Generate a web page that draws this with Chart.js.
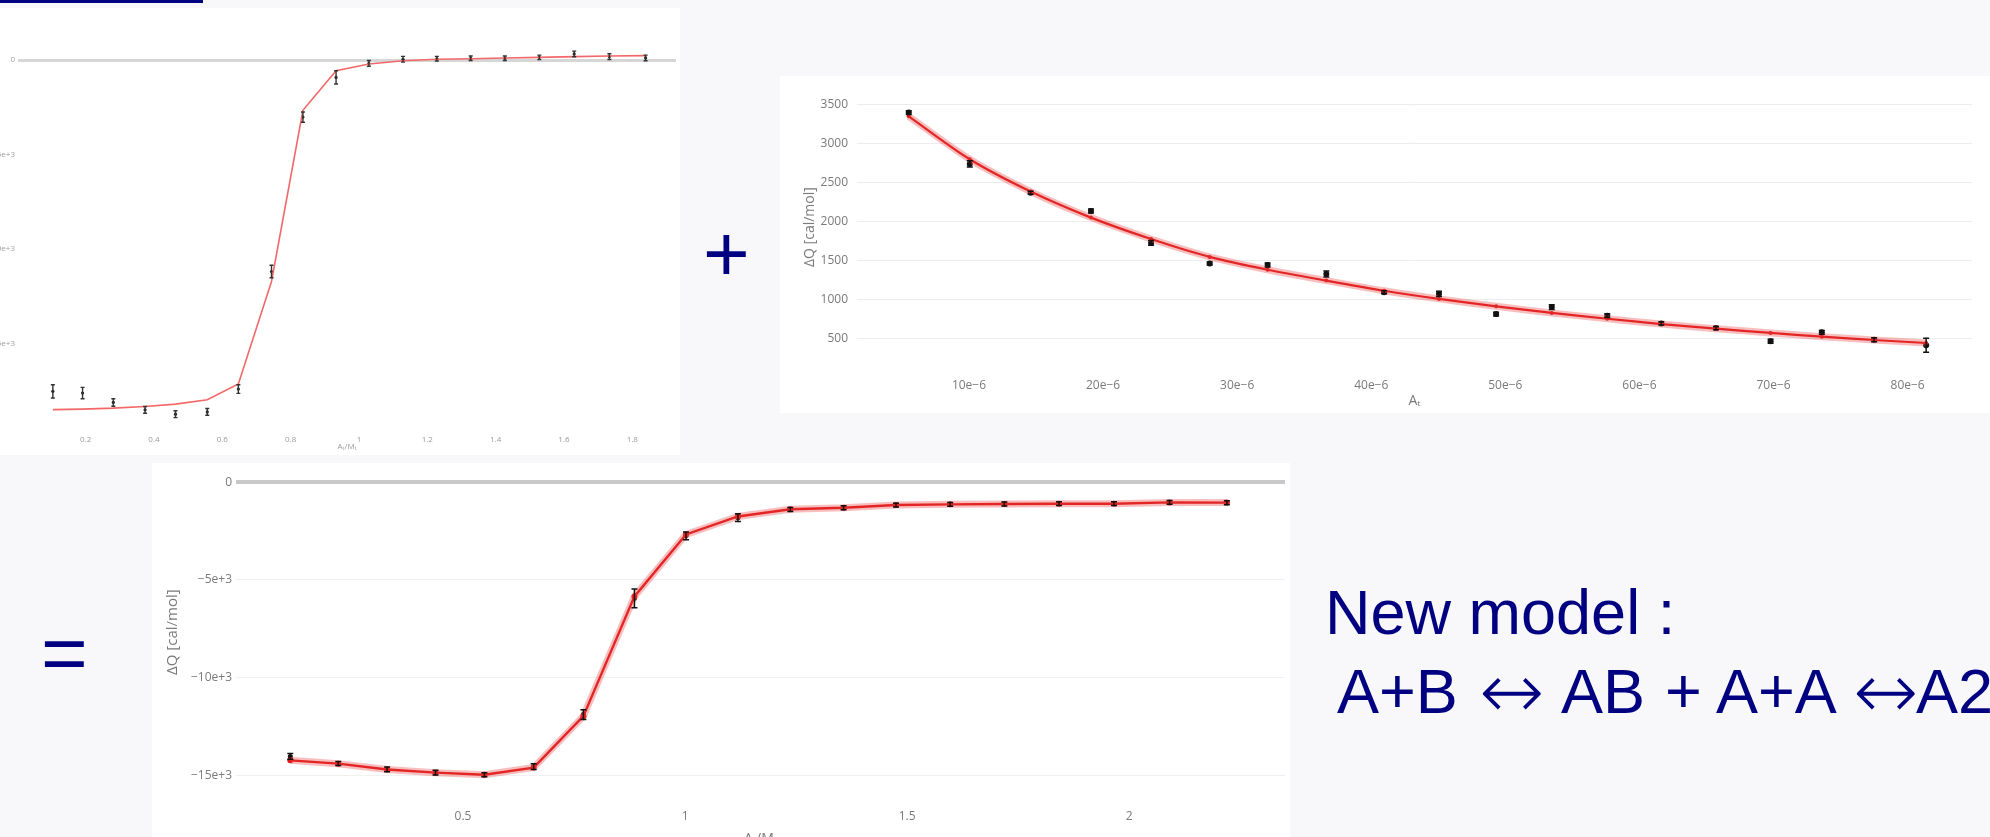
<!DOCTYPE html>
<html><head><meta charset="utf-8">
<script src="https://cdn.jsdelivr.net/npm/chart.js@4.4.1/dist/chart.umd.min.js"></script>
<style>
html,body{margin:0;padding:0;}
body{width:1990px;height:837px;overflow:hidden;background:#f8f8fb;position:relative;font-family:"Liberation Sans",Arial,sans-serif;}
.panel{position:absolute;background:#ffffff;}
canvas{position:absolute;}
.sym{position:absolute;color:#000080;font-size:80px;line-height:1;white-space:nowrap;}
.txt{position:absolute;color:#000080;font-size:63px;line-height:1;white-space:nowrap;}
.arr{position:absolute;color:#000080;font-family:"DejaVu Sans";font-weight:200;font-size:78px;line-height:1;white-space:nowrap;}
</style></head>
<body>
<div style="position:absolute;left:0;top:0;width:203px;height:3px;background:#000080"></div>
<div class="panel" style="left:0;top:8px;width:680px;height:447px"></div>
<div class="panel" style="left:780px;top:76px;width:1210px;height:337px"></div>
<div class="panel" style="left:152px;top:463px;width:1138px;height:374px"></div>
<canvas id="c1" width="680" height="420" style="left:0;top:35px"></canvas>
<canvas id="c2" width="1210" height="337" style="left:780px;top:76px"></canvas>
<canvas id="c3" width="1138" height="390" style="left:152px;top:463px"></canvas>
<span class="sym" style="left:703px;top:214px">+</span>
<span class="sym" style="left:41px;top:613px">=</span>
<span class="txt" style="left:1325px;top:581px">New model :</span>
<span class="txt" style="left:1337px;top:660px">A+B</span>
<span class="arr" style="left:1479px;top:652px">↔</span>
<span class="txt" style="left:1561px;top:660px">AB</span>
<span class="txt" style="left:1665px;top:660px">+</span>
<span class="txt" style="left:1716px;top:660px">A+A</span>
<span class="arr" style="left:1853px;top:652px">↔</span>
<span class="txt" style="left:1916px;top:660px">A2</span>
<script>
// ---------- data: top-left chart (A+B model fit) ----------
const tlRatio = [0.104,0.191,0.281,0.374,0.463,0.556,0.647,0.744,0.836,0.933,1.029,1.129,1.228,1.327,1.427,1.528,1.630,1.733,1.839];
const tlMeasured = [-17530,-17620,-18120,-18510,-18740,-18620,-17410,-11190,-3020,-920,-180,40,70,90,90,140,320,180,110];
const tlError = [350,300,200,180,180,180,230,330,270,350,150,150,120,120,120,120,150,150,150];
const tlFit = [-18500,-18470,-18420,-18330,-18210,-17980,-17140,-11720,-2660,-570,-210,-40,40,70,110,140,180,210,230];
const tlXTicks = [0.2,0.4,0.6,0.8,1,1.2,1.4,1.6,1.8];
const tlYTicks = [0,-5000,-10000,-15000];

// ---------- data: top-right chart (A+A dimer dilution) ----------
const trConc = [5.51e-6,10.06e-6,14.60e-6,19.10e-6,23.58e-6,27.95e-6,32.27e-6,36.65e-6,40.96e-6,45.05e-6,49.31e-6,53.46e-6,57.60e-6,61.63e-6,65.71e-6,69.78e-6,73.60e-6,77.50e-6,81.38e-6];
const trMeasured = [3400,2740,2370,2135,1725,1460,1440,1325,1090,1070,810,900,790,690,630,460,575,480,410];
const trError = [25,40,20,25,30,20,25,40,20,35,25,30,25,20,20,25,25,25,90];
const trFit = [3352,2800,2385,2050,1775,1545,1380,1240,1110,1005,910,825,750,682,622,568,520,477,438];
const trXTicks = [10e-6,20e-6,30e-6,40e-6,50e-6,60e-6,70e-6,80e-6];
const trYTicks = [500,1000,1500,2000,2500,3000,3500];

// ---------- data: bottom chart (combined model) ----------
const btRatio = [0.111,0.219,0.329,0.438,0.548,0.659,0.771,0.886,1.002,1.119,1.237,1.357,1.475,1.597,1.719,1.842,1.966,2.091,2.220];
const btMeasured = [-14040,-14400,-14700,-14870,-14980,-14560,-11900,-5950,-2750,-1820,-1400,-1310,-1180,-1140,-1120,-1100,-1100,-1040,-1060];
const btError = [150,100,120,120,100,150,250,480,200,200,100,100,100,100,100,100,100,100,100];
const btFit = [-14240,-14410,-14710,-14870,-14980,-14610,-11980,-5850,-2680,-1760,-1390,-1310,-1170,-1140,-1120,-1110,-1110,-1040,-1050];
const btXTicks = [0.5,1,1.5,2];
const btYTicks = [0,-5000,-10000,-15000];

const pts = (xs, ys) => xs.map((x, i) => ({x: x, y: ys[i]}));
const sci3 = v => v === 0 ? '0' : (v < 0 ? '\u2212' : '') + Math.abs(v / 1000) + 'e+3';

const errorBars = {
  id: 'errorBars',
  afterDatasetsDraw(chart) {
    const ctx = chart.ctx;
    const xs = chart.scales.x, ys = chart.scales.y;
    chart.data.datasets.forEach((ds) => {
      if (!ds.errors) return;
      ctx.save();
      ctx.strokeStyle = ds.errorColor || '#111';
      ctx.lineWidth = ds.errorWidth || 1.5;
      ds.data.forEach((p, j) => {
        const e = ds.errors[j];
        const x = xs.getPixelForValue(p.x);
        const y1 = ys.getPixelForValue(p.y - e), y2 = ys.getPixelForValue(p.y + e);
        const c = ds.capWidth || 3;
        ctx.beginPath();
        ctx.moveTo(x, y1); ctx.lineTo(x, y2);
        ctx.moveTo(x - c, y1); ctx.lineTo(x + c, y1);
        ctx.moveTo(x - c, y2); ctx.lineTo(x + c, y2);
        ctx.stroke();
      });
      ctx.restore();
    });
  }
};
Chart.register(errorBars);

const setTicks = (arr) => (scale) => { scale.ticks = arr.map(v => ({value: v})); };
const baseOpts = {
  responsive: false, animation: false, devicePixelRatio: 1,
  plugins: {legend: {display: false}, tooltip: {enabled: false}}
};

// ---------- chart 1 ----------
new Chart(document.getElementById('c1'), {
  type: 'line',
  data: {datasets: [
    {data: pts(tlRatio, tlFit), borderColor: '#f26868', borderWidth: 1.6, pointRadius: 0, tension: 0},
    {data: pts(tlRatio, tlMeasured), showLine: false, pointRadius: 1.6, pointBackgroundColor: '#222', pointBorderWidth: 0,
     errors: tlError, errorColor: '#333', errorWidth: 1.4, capWidth: 2}
  ]},
  options: Object.assign({}, baseOpts, {
    layout: {padding: {left: 0, right: 2, top: 10, bottom: 0}},
    scales: {
      x: {type: 'linear', min: 0.002, max: 1.928,
        afterBuildTicks: setTicks(tlXTicks), afterFit: s => { s.height = 35; },
        grid: {display: false}, border: {display: false},
        ticks: {padding: 7, color: '#9a9a9a', font: {size: 8, family: 'Open Sans'}, callback: v => String(v)},
        title: {display: true, text: 'A\u209c/M\u209c', color: '#9a9a9a', font: {size: 8, family: 'Open Sans'}, padding: {top: 0, bottom: 3}}},
      y: {type: 'linear', min: -19048, max: 794,
        afterBuildTicks: setTicks(tlYTicks), afterFit: s => { s.width = 18; },
        grid: {drawTicks: false, color: c => c.tick && c.tick.value === 0 ? '#d6d6d6' : 'rgba(0,0,0,0)', lineWidth: c => c.tick && c.tick.value === 0 ? 3 : 0},
        border: {display: false},
        ticks: {padding: 3, color: '#a0a0a0', font: {size: 8, family: 'Open Sans'}, callback: sci3}}
    }
  })
});

// ---------- chart 2 ----------
new Chart(document.getElementById('c2'), {
  type: 'line',
  data: {datasets: [
    {data: pts(trConc, trFit), borderColor: 'rgba(235,70,70,0.35)', borderWidth: 7, pointRadius: 0, tension: 0.3},
    {data: pts(trConc, trFit), borderColor: '#e01515', borderWidth: 2.2, pointRadius: 2, pointBackgroundColor: '#e01515', pointBorderWidth: 0, tension: 0.3},
    {data: pts(trConc, trMeasured), showLine: false, pointRadius: 3, pointBackgroundColor: '#111', pointBorderWidth: 0,
     errors: trError, errorColor: '#111', errorWidth: 1.5, capWidth: 3}
  ]},
  options: Object.assign({}, baseOpts, {
    layout: {padding: {left: 0, right: 18, top: 14, bottom: 0}},
    scales: {
      x: {type: 'linear', min: 1.65e-6, max: 84.80e-6,
        afterBuildTicks: setTicks(trXTicks), afterFit: s => { s.height = 51; },
        grid: {display: false}, border: {display: false},
        ticks: {padding: 8, color: '#7a7a7a', font: {size: 12, family: 'Open Sans'}, callback: v => Math.round(v * 1e6) + 'e\u22126'},
        title: {display: true, text: 'A\u209c', color: '#7a7a7a', font: {size: 14, family: 'Open Sans'}, padding: {top: 0, bottom: 3.6}}},
      y: {type: 'linear', min: 194, max: 3662,
        afterBuildTicks: setTicks(trYTicks), afterFit: s => { s.width = 77; },
        grid: {drawTicks: false, color: '#ececec', lineWidth: 1},
        border: {display: false},
        ticks: {padding: 9, color: '#7a7a7a', font: {size: 12, family: 'Open Sans'}, callback: v => String(v)},
        title: {display: true, text: '\u0394Q [cal/mol]', color: '#7a7a7a', font: {size: 14, family: 'Open Sans'}, padding: {top: 22, bottom: 0}}}
    }
  })
});

// ---------- chart 3 ----------
new Chart(document.getElementById('c3'), {
  type: 'line',
  data: {datasets: [
    {data: pts(btRatio, btFit), borderColor: 'rgba(235,70,70,0.35)', borderWidth: 7, pointRadius: 0, tension: 0},
    {data: pts(btRatio, btFit), borderColor: '#e01515', borderWidth: 2.4, pointRadius: 3, pointBackgroundColor: '#e01515', pointBorderWidth: 0, tension: 0},
    {data: pts(btRatio, btMeasured), showLine: false, pointRadius: 2.5, pointBackgroundColor: '#111', pointBorderWidth: 0,
     errors: btError, errorColor: '#111', errorWidth: 1.5, capWidth: 3}
  ]},
  options: Object.assign({}, baseOpts, {
    layout: {padding: {left: 0, right: 5, top: 7, bottom: 0}},
    scales: {
      x: {type: 'linear', min: -0.0113, max: 2.351,
        afterBuildTicks: setTicks(btXTicks), afterFit: s => { s.height = 63; },
        grid: {display: false}, border: {display: false},
        ticks: {padding: 11, color: '#7a7a7a', font: {size: 12, family: 'Open Sans'}, callback: v => String(v)},
        title: {display: true, text: 'A\u209c/M\u209c', color: '#7a7a7a', font: {size: 14, family: 'Open Sans'}, padding: {top: 0, bottom: 6}}},
      y: {type: 'linear', min: -15758, max: 404,
        afterBuildTicks: setTicks(btYTicks), afterFit: s => { s.width = 84; },
        grid: {drawTicks: false, color: c => c.tick && c.tick.value === 0 ? '#c8c8c8' : '#f0f0f0', lineWidth: c => c.tick && c.tick.value === 0 ? 4 : 1},
        border: {display: false},
        ticks: {padding: 4, color: '#7a7a7a', font: {size: 12, family: 'Open Sans'}, callback: sci3},
        title: {display: true, text: '\u0394Q [cal/mol]', color: '#7a7a7a', font: {size: 15, family: 'Open Sans'}, padding: {top: 12, bottom: 0}}}
    }
  })
});
</script>
</body></html>
